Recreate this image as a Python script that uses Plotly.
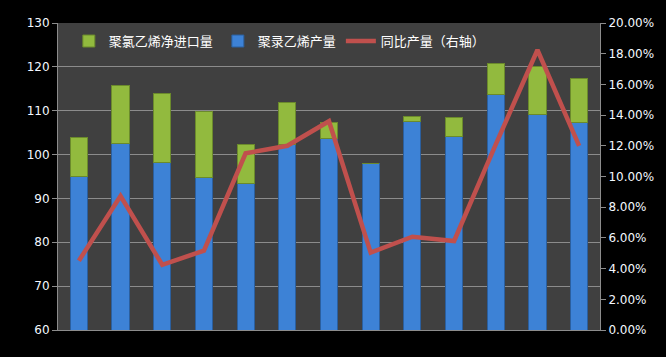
import plotly.graph_objects as go

categories = [str(i) for i in range(1, 14)]
production = [95.1, 102.5, 98.1, 94.7, 93.4, 102.4, 103.6, 98.0, 107.6, 104.1, 113.8, 109.2, 107.3]
total = [104.0, 115.8, 114.0, 109.9, 102.3, 111.9, 107.4, 98.0, 108.7, 108.5, 120.8, 120.0, 117.4]
net_import = [round(t - p, 2) for t, p in zip(total, production)]
yoy = [0.0451, 0.0873, 0.0425, 0.0517, 0.1151, 0.1200, 0.1360, 0.0504, 0.0608, 0.0580, 0.1210, 0.1824, 0.1200]

font = dict(family="DejaVu Sans", size=12, color="#f4f8ff")

fig = go.Figure()
fig.add_trace(go.Bar(
    x=categories, y=production, name="聚录乙烯产量",
    marker=dict(color="#3d82d6", line=dict(color="#2b5f9e", width=1)),
    width=0.41, legendrank=2,
))
fig.add_trace(go.Bar(
    x=categories, y=net_import, name="聚氯乙烯净进口量",
    marker=dict(color="#92ba3e", line=dict(color="#6b8a2c", width=1)),
    width=0.41, legendrank=1,
))
fig.add_trace(go.Scatter(
    x=categories, y=yoy, name="同比产量（右轴）", yaxis="y2",
    mode="lines", line=dict(color="#c0504d", width=4.5), legendrank=3,
))

fig.update_layout(
    width=666, height=357,
    barmode="stack",
    paper_bgcolor="#000000",
    plot_bgcolor="#404040",
    margin=dict(l=58, r=63, t=23, b=27),
    font=font,
    showlegend=True,
    legend=dict(
        orientation="h", x=0.02, y=0.99, xanchor="left", yanchor="top",
        bgcolor="rgba(0,0,0,0)", font=dict(family="Noto Sans CJK SC", size=13, color="#ffffff"),
        traceorder="normal", itemwidth=30,
    ),
    xaxis=dict(
        showticklabels=False, showgrid=False, showline=True, linecolor="#8c8c8c",
        linewidth=1, ticks="", range=[-0.5, 12.5],
    ),
    yaxis=dict(
        range=[60, 130], dtick=10, showgrid=True, gridcolor="#8c8c8c", gridwidth=1,
        showline=True, linecolor="#8c8c8c", linewidth=1, ticks="outside",
        ticklen=5, tickcolor="#8c8c8c", zeroline=False, tickfont=font,
    ),
    yaxis2=dict(
        range=[0, 0.2], dtick=0.02, tickformat=".2%", overlaying="y", side="right",
        showgrid=False, showline=True, linecolor="#8c8c8c", linewidth=1,
        ticks="outside", ticklen=5, tickcolor="#8c8c8c", zeroline=False, tickfont=font,
    ),
)

fig.write_html(
    "out.html",
    config={"displayModeBar": False},
    post_script="document.body.style.margin='0';document.body.style.background='#000';",
)
